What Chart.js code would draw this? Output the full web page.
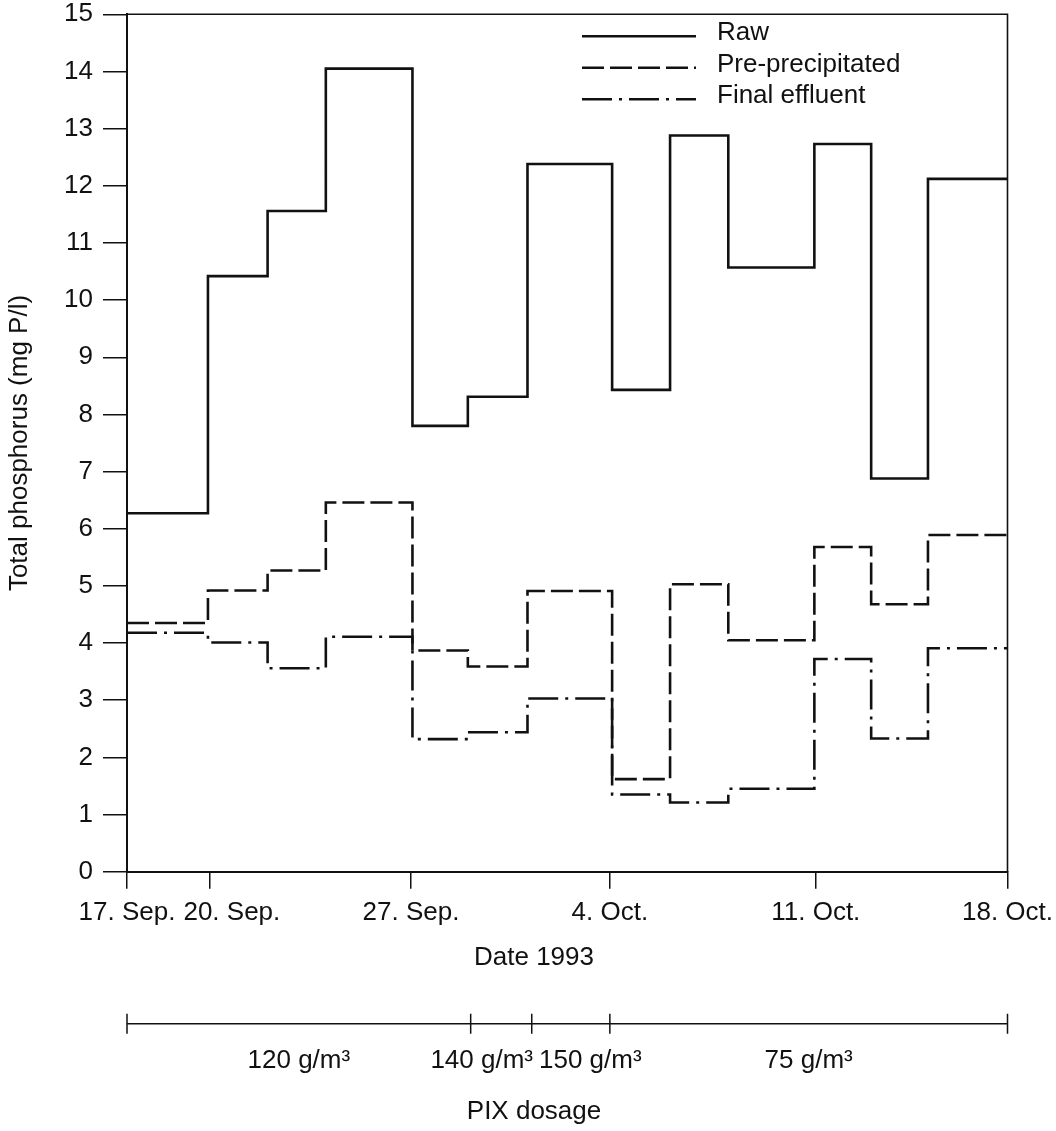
<!DOCTYPE html>
<html>
<head>
<meta charset="utf-8">
<script src="https://cdn.jsdelivr.net/npm/chart.js@4.4.0/dist/chart.umd.min.js"></script>
<style>
  html, body { margin: 0; padding: 0; background: #fff; }
  #wrap { width: 1056px; height: 1131px; }
</style>
</head>
<body>
<div id="wrap"><canvas id="c" width="1056" height="1131"></canvas></div>
<script>
// ---- data ----
// start day (days after 17 Sep 1993) of each sampling interval
const stepStartDays = [0, 2.85, 4.95, 7.0, 10.05, 12.0, 14.1, 17.08, 19.12, 21.17, 24.2, 26.2, 28.2];
const endDay = 31;
const rawP   = [6.27, 10.42, 11.56, 14.05, 7.80, 8.31, 12.38, 8.43, 12.88, 10.57, 12.73, 6.88, 12.12];
const preP   = [4.35, 4.92, 5.27, 6.46, 3.87, 3.59, 4.91, 1.62, 5.03, 4.05, 5.68, 4.68, 5.89];
const finalP = [4.18, 4.01, 3.56, 4.11, 2.32, 2.44, 3.03, 1.35, 1.21, 1.45, 3.72, 2.33, 3.91];
const seriesNames = ['Raw', 'Pre-precipitated', 'Final effluent'];

const dateTickDays   = [0, 2.9, 10, 17, 24.25, 31];
const dateTickLabels = ['17. Sep.', '20. Sep.', '27. Sep.', '4. Oct.', '11. Oct.', '18. Oct.'];

const dosageBoundDays = [0, 12.1, 14.25, 17, 31];
const dosageLabels    = ['120 g/m\u00B3', '140 g/m\u00B3', '150 g/m\u00B3', '75 g/m\u00B3'];

const yTitle = 'Total phosphorus (mg P/l)';
const xTitle = 'Date 1993';
const dosageTitle = 'PIX dosage';

// ---- styling ----
const INK = '#111';
const FONT_FAMILY = '"Liberation Sans", Arial, Helvetica, sans-serif';
const FS = 26;
Chart.defaults.font.family = FONT_FAMILY;
Chart.defaults.font.size = FS;
Chart.defaults.color = INK;

function stepPoints(vals) {
  const pts = stepStartDays.map((d, i) => ({ x: d, y: vals[i] }));
  pts.push({ x: endDay, y: vals[vals.length - 1] });
  return pts;
}

const decor = {
  id: 'decor',
  afterDraw(chart) {
    const { ctx, chartArea: a, scales: { x } } = chart;
    ctx.save();
    // top and right frame
    ctx.strokeStyle = INK;
    ctx.lineWidth = 1.6;
    ctx.beginPath();
    ctx.moveTo(a.left, a.top);
    ctx.lineTo(a.right, a.top);
    ctx.lineTo(a.right, a.bottom);
    ctx.stroke();

    ctx.font = FS + 'px ' + FONT_FAMILY;
    ctx.fillStyle = INK;
    ctx.textAlign = 'center';
    ctx.textBaseline = 'middle';

    // x tick labels (pushed apart where they would overlap)
    let prevRight = -Infinity;
    dateTickDays.forEach((d, i) => {
      const w = ctx.measureText(dateTickLabels[i]).width;
      let cx = x.getPixelForValue(d);
      if (cx - w / 2 < prevRight + 8) cx = prevRight + 8 + w / 2;
      cx = Math.min(cx, chart.width - 3 - w / 2);
      ctx.fillText(dateTickLabels[i], cx, a.bottom + 41);
      prevRight = cx + w / 2;
    });

    const midX = chart.width / 2 + 6;
    ctx.fillText(xTitle, midX, a.bottom + 86);

    // dosage bar
    const yl = a.bottom + 152;
    ctx.lineWidth = 1.5;
    ctx.beginPath();
    ctx.moveTo(x.getPixelForValue(dosageBoundDays[0]), yl);
    ctx.lineTo(x.getPixelForValue(dosageBoundDays[dosageBoundDays.length - 1]), yl);
    dosageBoundDays.forEach(d => {
      const px = x.getPixelForValue(d);
      ctx.moveTo(px, yl - 10);
      ctx.lineTo(px, yl + 10);
    });
    ctx.stroke();

    const cs = [], ws = [];
    dosageLabels.forEach((t, i) => {
      cs.push((x.getPixelForValue(dosageBoundDays[i]) + x.getPixelForValue(dosageBoundDays[i + 1])) / 2);
      ws.push(ctx.measureText(t).width);
    });
    for (let i = 1; i < cs.length; i++) {
      const ov = (cs[i - 1] + ws[i - 1] / 2 + 6) - (cs[i] - ws[i] / 2);
      if (ov > 0) { cs[i - 1] -= ov / 2; cs[i] += ov / 2; }
    }
    dosageLabels.forEach((t, i) => ctx.fillText(t, cs[i], yl + 37));
    ctx.fillText(dosageTitle, midX, yl + 88);

    // legend
    ctx.textAlign = 'left';
    chart.data.datasets.forEach((ds, i) => {
      const yc = a.top + 19 + i * 31.5;
      ctx.save();
      ctx.strokeStyle = ds.borderColor;
      ctx.lineWidth = ds.borderWidth;
      ctx.setLineDash(ds.borderDash || []);
      ctx.beginPath();
      ctx.moveTo(a.left + 455, yc + 3);
      ctx.lineTo(a.left + 569, yc + 3);
      ctx.stroke();
      ctx.restore();
      ctx.fillText(ds.label, a.left + 590, yc);
    });
    ctx.restore();
  }
};

const mkDs = (label, vals, dash) => ({
  label, data: stepPoints(vals), stepped: 'before',
  borderColor: INK, borderWidth: 2.6, borderDash: dash,
  pointRadius: 0, pointHoverRadius: 0, fill: false, tension: 0,
  borderCapStyle: 'butt', borderJoinStyle: 'miter'
});

new Chart(document.getElementById('c'), {
  type: 'line',
  data: {
    datasets: [
      mkDs(seriesNames[0], rawP, []),
      mkDs(seriesNames[1], preP, [22, 6]),
      mkDs(seriesNames[2], finalP, [30, 7, 3, 7])
    ]
  },
  options: {
    responsive: false,
    animation: false,
    devicePixelRatio: 1,
    layout: { padding: { left: 0, right: 48.5, top: 14.3, bottom: 139.3 } },
    plugins: { legend: { display: false }, tooltip: { enabled: false } },
    scales: {
      x: {
        type: 'linear', min: 0, max: endDay,
        afterBuildTicks: s => { s.ticks = dateTickDays.map(v => ({ value: v })); },
        afterFit: s => { s.height = 120; s.paddingLeft = 0; s.paddingRight = 0; },
        ticks: { display: false, autoSkip: false },
        grid: { display: true, drawOnChartArea: false, drawTicks: true, tickLength: 17, color: INK, lineWidth: 1.5 },
        border: { display: true, color: INK, width: 2 }
      },
      y: {
        min: 0, max: 15,
        afterFit: s => { s.width = 127; s.paddingTop = 0; s.paddingBottom = 0; },
        ticks: { stepSize: 1, padding: 10, color: INK, font: { size: FS, lineHeight: 1 } },
        grid: { display: true, drawOnChartArea: false, drawTicks: true, tickLength: 24, color: INK, lineWidth: 1.5 },
        border: { display: true, color: INK, width: 2 },
        title: { display: true, text: yTitle, color: INK, font: { size: FS }, padding: { top: 4, bottom: 0 } }
      }
    }
  },
  plugins: [decor]
});
</script>
</body>
</html>
